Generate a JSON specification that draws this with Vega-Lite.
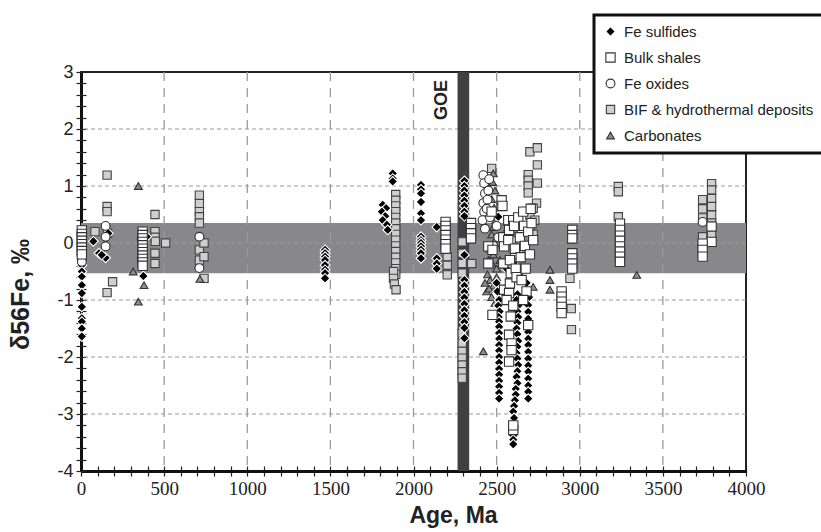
{
  "$schema": "https://vega.github.io/schema/vega-lite/v6.json",
  "width": 665,
  "height": 399,
  "autosize": "none",
  "padding": {"left": 81, "top": 72, "right": 75, "bottom": 61},
  "background": "white",
  "config": {
    "view": {"stroke": "#222", "strokeWidth": 2},
    "font": "Liberation Sans",
    "axis": {"grid": false, "tickColor": "#222", "tickWidth": 1.2, "domainColor": "#111", "domainWidth": 3, "labelColor": "#222", "titleColor": "#222"},
    "legend": {
      "orient": "none", "legendX": 513, "legendY": -57,
      "fillColor": "white", "strokeColor": "#111", "strokeWidth": 3, "padding": 9,
      "labelFont": "Liberation Sans", "labelFontSize": 15, "labelColor": "#222",
      "rowPadding": 10, "labelOffset": 6, "symbolStrokeWidth": 1.1, "labelLimit": 400
    }
  },
  "resolve": {"axis": {"x": "independent", "y": "independent"}},
  "datasets": {
    "pts": [
      {"age": 84, "d56Fe": 0.2, "type": "BIF & hydrothermal deposits"},
      {"age": 157, "d56Fe": 1.19, "type": "BIF & hydrothermal deposits"},
      {"age": 157, "d56Fe": 0.64, "type": "BIF & hydrothermal deposits"},
      {"age": 157, "d56Fe": 0.55, "type": "BIF & hydrothermal deposits"},
      {"age": 160, "d56Fe": 0.17, "type": "BIF & hydrothermal deposits"},
      {"age": 190, "d56Fe": -0.68, "type": "BIF & hydrothermal deposits"},
      {"age": 157, "d56Fe": -0.87, "type": "BIF & hydrothermal deposits"},
      {"age": 445, "d56Fe": 0.5, "type": "BIF & hydrothermal deposits"},
      {"age": 445, "d56Fe": 0.2, "type": "BIF & hydrothermal deposits"},
      {"age": 445, "d56Fe": 0.1, "type": "BIF & hydrothermal deposits"},
      {"age": 447, "d56Fe": 0.03, "type": "BIF & hydrothermal deposits"},
      {"age": 445, "d56Fe": -0.18, "type": "BIF & hydrothermal deposits"},
      {"age": 445, "d56Fe": -0.36, "type": "BIF & hydrothermal deposits"},
      {"age": 509, "d56Fe": 0.0, "type": "BIF & hydrothermal deposits"},
      {"age": 712, "d56Fe": 0.84, "type": "BIF & hydrothermal deposits"},
      {"age": 712, "d56Fe": 0.69, "type": "BIF & hydrothermal deposits"},
      {"age": 712, "d56Fe": 0.55, "type": "BIF & hydrothermal deposits"},
      {"age": 712, "d56Fe": 0.46, "type": "BIF & hydrothermal deposits"},
      {"age": 712, "d56Fe": 0.35, "type": "BIF & hydrothermal deposits"},
      {"age": 712, "d56Fe": -0.12, "type": "BIF & hydrothermal deposits"},
      {"age": 712, "d56Fe": -0.3, "type": "BIF & hydrothermal deposits"},
      {"age": 740, "d56Fe": 0.0, "type": "BIF & hydrothermal deposits"},
      {"age": 740, "d56Fe": -0.24, "type": "BIF & hydrothermal deposits"},
      {"age": 740, "d56Fe": -0.62, "type": "BIF & hydrothermal deposits"},
      {"age": 1893, "d56Fe": 0.85, "type": "BIF & hydrothermal deposits"},
      {"age": 1893, "d56Fe": 0.75, "type": "BIF & hydrothermal deposits"},
      {"age": 1893, "d56Fe": 0.65, "type": "BIF & hydrothermal deposits"},
      {"age": 1893, "d56Fe": 0.55, "type": "BIF & hydrothermal deposits"},
      {"age": 1893, "d56Fe": 0.45, "type": "BIF & hydrothermal deposits"},
      {"age": 1893, "d56Fe": 0.35, "type": "BIF & hydrothermal deposits"},
      {"age": 1893, "d56Fe": 0.25, "type": "BIF & hydrothermal deposits"},
      {"age": 1893, "d56Fe": 0.15, "type": "BIF & hydrothermal deposits"},
      {"age": 1893, "d56Fe": 0.05, "type": "BIF & hydrothermal deposits"},
      {"age": 1893, "d56Fe": -0.05, "type": "BIF & hydrothermal deposits"},
      {"age": 1893, "d56Fe": -0.15, "type": "BIF & hydrothermal deposits"},
      {"age": 1893, "d56Fe": -0.25, "type": "BIF & hydrothermal deposits"},
      {"age": 1893, "d56Fe": -0.35, "type": "BIF & hydrothermal deposits"},
      {"age": 1893, "d56Fe": -0.45, "type": "BIF & hydrothermal deposits"},
      {"age": 1893, "d56Fe": -0.55, "type": "BIF & hydrothermal deposits"},
      {"age": 1880, "d56Fe": -0.5, "type": "BIF & hydrothermal deposits"},
      {"age": 1880, "d56Fe": -0.62, "type": "BIF & hydrothermal deposits"},
      {"age": 1885, "d56Fe": -0.72, "type": "BIF & hydrothermal deposits"},
      {"age": 1895, "d56Fe": -0.82, "type": "BIF & hydrothermal deposits"},
      {"age": 2203, "d56Fe": -0.24, "type": "BIF & hydrothermal deposits"},
      {"age": 2203, "d56Fe": -0.39, "type": "BIF & hydrothermal deposits"},
      {"age": 2203, "d56Fe": -0.56, "type": "BIF & hydrothermal deposits"},
      {"age": 2293, "d56Fe": 0.02, "type": "BIF & hydrothermal deposits"},
      {"age": 2293, "d56Fe": -0.18, "type": "BIF & hydrothermal deposits"},
      {"age": 2293, "d56Fe": -0.36, "type": "BIF & hydrothermal deposits"},
      {"age": 2293, "d56Fe": -0.53, "type": "BIF & hydrothermal deposits"},
      {"age": 2293, "d56Fe": -1.58, "type": "BIF & hydrothermal deposits"},
      {"age": 2293, "d56Fe": -1.76, "type": "BIF & hydrothermal deposits"},
      {"age": 2293, "d56Fe": -1.9, "type": "BIF & hydrothermal deposits"},
      {"age": 2293, "d56Fe": -2.02, "type": "BIF & hydrothermal deposits"},
      {"age": 2293, "d56Fe": -2.14, "type": "BIF & hydrothermal deposits"},
      {"age": 2293, "d56Fe": -2.26, "type": "BIF & hydrothermal deposits"},
      {"age": 2293, "d56Fe": -2.37, "type": "BIF & hydrothermal deposits"},
      {"age": 2350, "d56Fe": -0.36, "type": "BIF & hydrothermal deposits"},
      {"age": 2470, "d56Fe": 1.31, "type": "BIF & hydrothermal deposits"},
      {"age": 2700, "d56Fe": 1.6, "type": "BIF & hydrothermal deposits"},
      {"age": 2745, "d56Fe": 1.67, "type": "BIF & hydrothermal deposits"},
      {"age": 2745, "d56Fe": 1.37, "type": "BIF & hydrothermal deposits"},
      {"age": 2690, "d56Fe": 1.2, "type": "BIF & hydrothermal deposits"},
      {"age": 2690, "d56Fe": 1.1, "type": "BIF & hydrothermal deposits"},
      {"age": 2745, "d56Fe": 1.05, "type": "BIF & hydrothermal deposits"},
      {"age": 2690, "d56Fe": 1.0, "type": "BIF & hydrothermal deposits"},
      {"age": 2690, "d56Fe": 0.88, "type": "BIF & hydrothermal deposits"},
      {"age": 2740, "d56Fe": 0.7, "type": "BIF & hydrothermal deposits"},
      {"age": 2720, "d56Fe": 0.61, "type": "BIF & hydrothermal deposits"},
      {"age": 2700, "d56Fe": 0.49, "type": "BIF & hydrothermal deposits"},
      {"age": 2730, "d56Fe": 0.4, "type": "BIF & hydrothermal deposits"},
      {"age": 2700, "d56Fe": 0.25, "type": "BIF & hydrothermal deposits"},
      {"age": 2720, "d56Fe": 0.15, "type": "BIF & hydrothermal deposits"},
      {"age": 2941, "d56Fe": -0.62, "type": "BIF & hydrothermal deposits"},
      {"age": 2949, "d56Fe": -1.15, "type": "BIF & hydrothermal deposits"},
      {"age": 2950, "d56Fe": -1.52, "type": "BIF & hydrothermal deposits"},
      {"age": 3232, "d56Fe": 0.99, "type": "BIF & hydrothermal deposits"},
      {"age": 3232, "d56Fe": 0.9, "type": "BIF & hydrothermal deposits"},
      {"age": 3232, "d56Fe": 0.46, "type": "BIF & hydrothermal deposits"},
      {"age": 3793, "d56Fe": 1.04, "type": "BIF & hydrothermal deposits"},
      {"age": 3793, "d56Fe": 0.93, "type": "BIF & hydrothermal deposits"},
      {"age": 3793, "d56Fe": 0.78, "type": "BIF & hydrothermal deposits"},
      {"age": 3793, "d56Fe": 0.64, "type": "BIF & hydrothermal deposits"},
      {"age": 3793, "d56Fe": 0.49, "type": "BIF & hydrothermal deposits"},
      {"age": 3793, "d56Fe": 0.35, "type": "BIF & hydrothermal deposits"},
      {"age": 3793, "d56Fe": 0.17, "type": "BIF & hydrothermal deposits"},
      {"age": 3793, "d56Fe": 0.02, "type": "BIF & hydrothermal deposits"},
      {"age": 3739, "d56Fe": 0.76, "type": "BIF & hydrothermal deposits"},
      {"age": 3739, "d56Fe": 0.6, "type": "BIF & hydrothermal deposits"},
      {"age": 3739, "d56Fe": 0.44, "type": "BIF & hydrothermal deposits"},
      {"age": 3739, "d56Fe": 0.11, "type": "BIF & hydrothermal deposits"},

      {"age": 345, "d56Fe": 1.0, "type": "Carbonates"},
      {"age": 345, "d56Fe": -1.03, "type": "Carbonates"},
      {"age": 314, "d56Fe": -0.5, "type": "Carbonates"},
      {"age": 379, "d56Fe": -0.74, "type": "Carbonates"},
      {"age": 715, "d56Fe": -0.63, "type": "Carbonates"},
      {"age": 2480, "d56Fe": 1.22, "type": "Carbonates"},
      {"age": 2475, "d56Fe": 1.07, "type": "Carbonates"},
      {"age": 2490, "d56Fe": 0.92, "type": "Carbonates"},
      {"age": 2470, "d56Fe": 0.77, "type": "Carbonates"},
      {"age": 2485, "d56Fe": 0.62, "type": "Carbonates"},
      {"age": 2460, "d56Fe": 0.5, "type": "Carbonates"},
      {"age": 2495, "d56Fe": 0.4, "type": "Carbonates"},
      {"age": 2480, "d56Fe": 0.28, "type": "Carbonates"},
      {"age": 2470, "d56Fe": 0.15, "type": "Carbonates"},
      {"age": 2490, "d56Fe": 0.04, "type": "Carbonates"},
      {"age": 2460, "d56Fe": -0.1, "type": "Carbonates"},
      {"age": 2480, "d56Fe": -0.2, "type": "Carbonates"},
      {"age": 2470, "d56Fe": -0.35, "type": "Carbonates"},
      {"age": 2500, "d56Fe": -0.45, "type": "Carbonates"},
      {"age": 2445, "d56Fe": -0.55, "type": "Carbonates"},
      {"age": 2460, "d56Fe": -0.65, "type": "Carbonates"},
      {"age": 2480, "d56Fe": -0.75, "type": "Carbonates"},
      {"age": 2440, "d56Fe": -0.85, "type": "Carbonates"},
      {"age": 2470, "d56Fe": -0.95, "type": "Carbonates"},
      {"age": 2490, "d56Fe": -1.05, "type": "Carbonates"},
      {"age": 2420, "d56Fe": -1.9, "type": "Carbonates"},
      {"age": 2500, "d56Fe": -0.6, "type": "Carbonates"},
      {"age": 2520, "d56Fe": -0.3, "type": "Carbonates"},
      {"age": 2510, "d56Fe": 0.0, "type": "Carbonates"},
      {"age": 2430, "d56Fe": -0.7, "type": "Carbonates"},
      {"age": 2450, "d56Fe": -0.3, "type": "Carbonates"},
      {"age": 2455, "d56Fe": -0.8, "type": "Carbonates"},
      {"age": 2720, "d56Fe": -0.77, "type": "Carbonates"},
      {"age": 2821, "d56Fe": -0.47, "type": "Carbonates"},
      {"age": 2821, "d56Fe": -0.65, "type": "Carbonates"},
      {"age": 2821, "d56Fe": -0.82, "type": "Carbonates"},
      {"age": 3343, "d56Fe": -0.56, "type": "Carbonates"},

      {"age": 5, "d56Fe": -0.39, "type": "Fe sulfides"},
      {"age": 5, "d56Fe": -0.5, "type": "Fe sulfides"},
      {"age": 5, "d56Fe": -0.59, "type": "Fe sulfides"},
      {"age": 5, "d56Fe": -0.74, "type": "Fe sulfides"},
      {"age": 5, "d56Fe": -0.88, "type": "Fe sulfides"},
      {"age": 5, "d56Fe": -1.12, "type": "Fe sulfides"},
      {"age": 5, "d56Fe": -1.32, "type": "Fe sulfides"},
      {"age": 5, "d56Fe": -1.38, "type": "Fe sulfides"},
      {"age": 5, "d56Fe": -1.5, "type": "Fe sulfides"},
      {"age": 5, "d56Fe": -1.64, "type": "Fe sulfides"},
      {"age": 74, "d56Fe": 0.03, "type": "Fe sulfides"},
      {"age": 164, "d56Fe": 0.17, "type": "Fe sulfides"},
      {"age": 108, "d56Fe": -0.18, "type": "Fe sulfides"},
      {"age": 148, "d56Fe": -0.26, "type": "Fe sulfides"},
      {"age": 125, "d56Fe": -0.21, "type": "Fe sulfides"},
      {"age": 375, "d56Fe": -0.58, "type": "Fe sulfides"},
      {"age": 395, "d56Fe": 0.11, "type": "Fe sulfides"},
      {"age": 1468, "d56Fe": -0.12, "type": "Fe sulfides"},
      {"age": 1468, "d56Fe": -0.18, "type": "Fe sulfides"},
      {"age": 1468, "d56Fe": -0.24, "type": "Fe sulfides"},
      {"age": 1468, "d56Fe": -0.3, "type": "Fe sulfides"},
      {"age": 1468, "d56Fe": -0.39, "type": "Fe sulfides"},
      {"age": 1468, "d56Fe": -0.47, "type": "Fe sulfides"},
      {"age": 1468, "d56Fe": -0.53, "type": "Fe sulfides"},
      {"age": 1468, "d56Fe": -0.62, "type": "Fe sulfides"},
      {"age": 1815, "d56Fe": 0.67, "type": "Fe sulfides"},
      {"age": 1835, "d56Fe": 0.61, "type": "Fe sulfides"},
      {"age": 1810, "d56Fe": 0.55, "type": "Fe sulfides"},
      {"age": 1830, "d56Fe": 0.47, "type": "Fe sulfides"},
      {"age": 1815, "d56Fe": 0.4, "type": "Fe sulfides"},
      {"age": 1840, "d56Fe": 0.32, "type": "Fe sulfides"},
      {"age": 1845, "d56Fe": 0.23, "type": "Fe sulfides"},
      {"age": 1875, "d56Fe": 1.22, "type": "Fe sulfides"},
      {"age": 1875, "d56Fe": 1.13, "type": "Fe sulfides"},
      {"age": 1875, "d56Fe": 1.08, "type": "Fe sulfides"},
      {"age": 2045, "d56Fe": 1.02, "type": "Fe sulfides"},
      {"age": 2045, "d56Fe": 0.94, "type": "Fe sulfides"},
      {"age": 2045, "d56Fe": 0.87, "type": "Fe sulfides"},
      {"age": 2045, "d56Fe": 0.72, "type": "Fe sulfides"},
      {"age": 2045, "d56Fe": 0.52, "type": "Fe sulfides"},
      {"age": 2045, "d56Fe": 0.4, "type": "Fe sulfides"},
      {"age": 2045, "d56Fe": 0.11, "type": "Fe sulfides"},
      {"age": 2045, "d56Fe": 0.05, "type": "Fe sulfides"},
      {"age": 2045, "d56Fe": 0.0, "type": "Fe sulfides"},
      {"age": 2045, "d56Fe": -0.06, "type": "Fe sulfides"},
      {"age": 2045, "d56Fe": -0.12, "type": "Fe sulfides"},
      {"age": 2045, "d56Fe": -0.18, "type": "Fe sulfides"},
      {"age": 2045, "d56Fe": -0.27, "type": "Fe sulfides"},
      {"age": 2140, "d56Fe": 0.28, "type": "Fe sulfides"},
      {"age": 2140, "d56Fe": -0.27, "type": "Fe sulfides"},
      {"age": 2140, "d56Fe": -0.36, "type": "Fe sulfides"},
      {"age": 2140, "d56Fe": -0.45, "type": "Fe sulfides"},
      {"age": 2306, "d56Fe": 1.09, "type": "Fe sulfides"},
      {"age": 2306, "d56Fe": 1.0, "type": "Fe sulfides"},
      {"age": 2306, "d56Fe": 0.92, "type": "Fe sulfides"},
      {"age": 2306, "d56Fe": 0.83, "type": "Fe sulfides"},
      {"age": 2306, "d56Fe": 0.74, "type": "Fe sulfides"},
      {"age": 2306, "d56Fe": 0.65, "type": "Fe sulfides"},
      {"age": 2306, "d56Fe": 0.55, "type": "Fe sulfides"},
      {"age": 2306, "d56Fe": 0.47, "type": "Fe sulfides"},
      {"age": 2306, "d56Fe": -0.21, "type": "Fe sulfides"},
      {"age": 2306, "d56Fe": -0.65, "type": "Fe sulfides"},
      {"age": 2306, "d56Fe": -0.75, "type": "Fe sulfides"},
      {"age": 2306, "d56Fe": -0.86, "type": "Fe sulfides"},
      {"age": 2306, "d56Fe": -0.96, "type": "Fe sulfides"},
      {"age": 2306, "d56Fe": -1.07, "type": "Fe sulfides"},
      {"age": 2306, "d56Fe": -1.18, "type": "Fe sulfides"},
      {"age": 2306, "d56Fe": -1.28, "type": "Fe sulfides"},
      {"age": 2306, "d56Fe": -1.39, "type": "Fe sulfides"},
      {"age": 2306, "d56Fe": -1.49, "type": "Fe sulfides"},
      {"age": 2306, "d56Fe": -1.67, "type": "Fe sulfides"},
      {"age": 2510, "d56Fe": 0.46, "type": "Fe sulfides"},
      {"age": 2620, "d56Fe": -0.15, "type": "Fe sulfides"},
      {"age": 2560, "d56Fe": -0.45, "type": "Fe sulfides"},
      {"age": 2600, "d56Fe": -0.35, "type": "Fe sulfides"},
      {"age": 2650, "d56Fe": -0.6, "type": "Fe sulfides"},
      {"age": 2680, "d56Fe": -0.7, "type": "Fe sulfides"},
      {"age": 2695, "d56Fe": -0.95, "type": "Fe sulfides"},
      {"age": 2500, "d56Fe": -0.7, "type": "Fe sulfides"},
      {"age": 2505, "d56Fe": -0.85, "type": "Fe sulfides"},
      {"age": 2515, "d56Fe": -1.0, "type": "Fe sulfides"},
      {"age": 2510, "d56Fe": -1.1, "type": "Fe sulfides"},
      {"age": 2518, "d56Fe": -1.2, "type": "Fe sulfides"},
      {"age": 2512, "d56Fe": -1.3, "type": "Fe sulfides"},
      {"age": 2515, "d56Fe": -1.38, "type": "Fe sulfides"},
      {"age": 2515, "d56Fe": -1.47, "type": "Fe sulfides"},
      {"age": 2515, "d56Fe": -1.58, "type": "Fe sulfides"},
      {"age": 2515, "d56Fe": -1.68, "type": "Fe sulfides"},
      {"age": 2515, "d56Fe": -1.79, "type": "Fe sulfides"},
      {"age": 2515, "d56Fe": -1.89, "type": "Fe sulfides"},
      {"age": 2515, "d56Fe": -2.0, "type": "Fe sulfides"},
      {"age": 2515, "d56Fe": -2.1, "type": "Fe sulfides"},
      {"age": 2515, "d56Fe": -2.21, "type": "Fe sulfides"},
      {"age": 2515, "d56Fe": -2.31, "type": "Fe sulfides"},
      {"age": 2515, "d56Fe": -2.42, "type": "Fe sulfides"},
      {"age": 2515, "d56Fe": -2.52, "type": "Fe sulfides"},
      {"age": 2515, "d56Fe": -2.63, "type": "Fe sulfides"},
      {"age": 2515, "d56Fe": -2.73, "type": "Fe sulfides"},
      {"age": 2625, "d56Fe": -0.9, "type": "Fe sulfides"},
      {"age": 2620, "d56Fe": -1.0, "type": "Fe sulfides"},
      {"age": 2630, "d56Fe": -1.1, "type": "Fe sulfides"},
      {"age": 2625, "d56Fe": -1.2, "type": "Fe sulfides"},
      {"age": 2630, "d56Fe": -1.3, "type": "Fe sulfides"},
      {"age": 2625, "d56Fe": -1.4, "type": "Fe sulfides"},
      {"age": 2620, "d56Fe": -1.5, "type": "Fe sulfides"},
      {"age": 2625, "d56Fe": -1.6, "type": "Fe sulfides"},
      {"age": 2630, "d56Fe": -1.72, "type": "Fe sulfides"},
      {"age": 2625, "d56Fe": -1.82, "type": "Fe sulfides"},
      {"age": 2620, "d56Fe": -1.93, "type": "Fe sulfides"},
      {"age": 2625, "d56Fe": -2.03, "type": "Fe sulfides"},
      {"age": 2630, "d56Fe": -2.14, "type": "Fe sulfides"},
      {"age": 2625, "d56Fe": -2.25, "type": "Fe sulfides"},
      {"age": 2620, "d56Fe": -2.35, "type": "Fe sulfides"},
      {"age": 2625, "d56Fe": -2.46, "type": "Fe sulfides"},
      {"age": 2615, "d56Fe": -2.56, "type": "Fe sulfides"},
      {"age": 2615, "d56Fe": -2.66, "type": "Fe sulfides"},
      {"age": 2610, "d56Fe": -2.76, "type": "Fe sulfides"},
      {"age": 2605, "d56Fe": -2.86, "type": "Fe sulfides"},
      {"age": 2600, "d56Fe": -2.96, "type": "Fe sulfides"},
      {"age": 2605, "d56Fe": -3.07, "type": "Fe sulfides"},
      {"age": 2600, "d56Fe": -3.38, "type": "Fe sulfides"},
      {"age": 2600, "d56Fe": -3.45, "type": "Fe sulfides"},
      {"age": 2600, "d56Fe": -3.53, "type": "Fe sulfides"},
      {"age": 2690, "d56Fe": -1.09, "type": "Fe sulfides"},
      {"age": 2690, "d56Fe": -1.21, "type": "Fe sulfides"},
      {"age": 2690, "d56Fe": -1.33, "type": "Fe sulfides"},
      {"age": 2690, "d56Fe": -1.44, "type": "Fe sulfides"},
      {"age": 2690, "d56Fe": -1.56, "type": "Fe sulfides"},
      {"age": 2690, "d56Fe": -1.68, "type": "Fe sulfides"},
      {"age": 2690, "d56Fe": -1.79, "type": "Fe sulfides"},
      {"age": 2690, "d56Fe": -1.91, "type": "Fe sulfides"},
      {"age": 2690, "d56Fe": -2.03, "type": "Fe sulfides"},
      {"age": 2690, "d56Fe": -2.15, "type": "Fe sulfides"},
      {"age": 2690, "d56Fe": -2.26, "type": "Fe sulfides"},
      {"age": 2690, "d56Fe": -2.38, "type": "Fe sulfides"},
      {"age": 2690, "d56Fe": -2.5, "type": "Fe sulfides"},
      {"age": 2690, "d56Fe": -2.61, "type": "Fe sulfides"},
      {"age": 2690, "d56Fe": -2.73, "type": "Fe sulfides"},

      {"age": 5, "d56Fe": -0.27, "type": "Fe oxides"},
      {"age": 5, "d56Fe": -0.33, "type": "Fe oxides"},
      {"age": 148, "d56Fe": 0.3, "type": "Fe oxides"},
      {"age": 148, "d56Fe": 0.11, "type": "Fe oxides"},
      {"age": 148, "d56Fe": -0.06, "type": "Fe oxides"},
      {"age": 365, "d56Fe": 0.08, "type": "Fe oxides"},
      {"age": 365, "d56Fe": -0.28, "type": "Fe oxides"},
      {"age": 712, "d56Fe": 0.11, "type": "Fe oxides"},
      {"age": 712, "d56Fe": -0.44, "type": "Fe oxides"},
      {"age": 2420, "d56Fe": 1.19, "type": "Fe oxides"},
      {"age": 2425, "d56Fe": 1.05, "type": "Fe oxides"},
      {"age": 2430, "d56Fe": 0.87, "type": "Fe oxides"},
      {"age": 2420, "d56Fe": 0.7, "type": "Fe oxides"},
      {"age": 2425, "d56Fe": 0.55, "type": "Fe oxides"},
      {"age": 2415, "d56Fe": 0.4, "type": "Fe oxides"},
      {"age": 2430, "d56Fe": 0.25, "type": "Fe oxides"},
      {"age": 2455, "d56Fe": 1.12, "type": "Fe oxides"},
      {"age": 2450, "d56Fe": 0.92, "type": "Fe oxides"},
      {"age": 2445, "d56Fe": 0.76, "type": "Fe oxides"},
      {"age": 2440, "d56Fe": 0.6, "type": "Fe oxides"},
      {"age": 2460, "d56Fe": 0.45, "type": "Fe oxides"},
      {"age": 2500, "d56Fe": 0.3, "type": "Fe oxides"},
      {"age": 2510, "d56Fe": 0.1, "type": "Fe oxides"},
      {"age": 2570, "d56Fe": 0.2, "type": "Fe oxides"},
      {"age": 2590, "d56Fe": 0.05, "type": "Fe oxides"},
      {"age": 2610, "d56Fe": -0.2, "type": "Fe oxides"},
      {"age": 2650, "d56Fe": 0.2, "type": "Fe oxides"},
      {"age": 2480, "d56Fe": -0.05, "type": "Fe oxides"},
      {"age": 3739, "d56Fe": 0.37, "type": "Fe oxides"},

      {"age": 5, "d56Fe": 0.22, "type": "Bulk shales"},
      {"age": 5, "d56Fe": 0.16, "type": "Bulk shales"},
      {"age": 5, "d56Fe": 0.1, "type": "Bulk shales"},
      {"age": 5, "d56Fe": 0.04, "type": "Bulk shales"},
      {"age": 5, "d56Fe": -0.02, "type": "Bulk shales"},
      {"age": 5, "d56Fe": -0.08, "type": "Bulk shales"},
      {"age": 5, "d56Fe": -0.14, "type": "Bulk shales"},
      {"age": 5, "d56Fe": -0.2, "type": "Bulk shales"},
      {"age": 371, "d56Fe": 0.2, "type": "Bulk shales"},
      {"age": 371, "d56Fe": 0.14, "type": "Bulk shales"},
      {"age": 371, "d56Fe": 0.08, "type": "Bulk shales"},
      {"age": 371, "d56Fe": 0.02, "type": "Bulk shales"},
      {"age": 371, "d56Fe": -0.04, "type": "Bulk shales"},
      {"age": 371, "d56Fe": -0.1, "type": "Bulk shales"},
      {"age": 371, "d56Fe": -0.16, "type": "Bulk shales"},
      {"age": 371, "d56Fe": -0.22, "type": "Bulk shales"},
      {"age": 371, "d56Fe": -0.28, "type": "Bulk shales"},
      {"age": 371, "d56Fe": -0.34, "type": "Bulk shales"},
      {"age": 371, "d56Fe": -0.4, "type": "Bulk shales"},
      {"age": 2193, "d56Fe": 0.37, "type": "Bulk shales"},
      {"age": 2193, "d56Fe": 0.3, "type": "Bulk shales"},
      {"age": 2193, "d56Fe": 0.22, "type": "Bulk shales"},
      {"age": 2193, "d56Fe": 0.14, "type": "Bulk shales"},
      {"age": 2193, "d56Fe": 0.06, "type": "Bulk shales"},
      {"age": 2193, "d56Fe": -0.02, "type": "Bulk shales"},
      {"age": 2193, "d56Fe": -0.1, "type": "Bulk shales"},
      {"age": 2346, "d56Fe": 0.35, "type": "Bulk shales"},
      {"age": 2346, "d56Fe": 0.26, "type": "Bulk shales"},
      {"age": 2346, "d56Fe": 0.17, "type": "Bulk shales"},
      {"age": 2346, "d56Fe": 0.08, "type": "Bulk shales"},
      {"age": 2450, "d56Fe": -0.06, "type": "Bulk shales"},
      {"age": 2450, "d56Fe": -0.36, "type": "Bulk shales"},
      {"age": 2470, "d56Fe": 0.55, "type": "Bulk shales"},
      {"age": 2475, "d56Fe": -0.12, "type": "Bulk shales"},
      {"age": 2530, "d56Fe": 0.75, "type": "Bulk shales"},
      {"age": 2535, "d56Fe": 0.65, "type": "Bulk shales"},
      {"age": 2540, "d56Fe": 0.1, "type": "Bulk shales"},
      {"age": 2545, "d56Fe": -0.06, "type": "Bulk shales"},
      {"age": 2540, "d56Fe": -0.36, "type": "Bulk shales"},
      {"age": 2545, "d56Fe": -0.82, "type": "Bulk shales"},
      {"age": 2570, "d56Fe": 0.4, "type": "Bulk shales"},
      {"age": 2575, "d56Fe": 0.23, "type": "Bulk shales"},
      {"age": 2570, "d56Fe": 0.05, "type": "Bulk shales"},
      {"age": 2580, "d56Fe": -0.3, "type": "Bulk shales"},
      {"age": 2585, "d56Fe": -0.53, "type": "Bulk shales"},
      {"age": 2580, "d56Fe": -0.71, "type": "Bulk shales"},
      {"age": 2575, "d56Fe": -0.88, "type": "Bulk shales"},
      {"age": 2600, "d56Fe": 0.4, "type": "Bulk shales"},
      {"age": 2605, "d56Fe": 0.3, "type": "Bulk shales"},
      {"age": 2610, "d56Fe": -0.1, "type": "Bulk shales"},
      {"age": 2615, "d56Fe": -0.45, "type": "Bulk shales"},
      {"age": 2620, "d56Fe": -0.6, "type": "Bulk shales"},
      {"age": 2630, "d56Fe": 0.45, "type": "Bulk shales"},
      {"age": 2640, "d56Fe": 0.1, "type": "Bulk shales"},
      {"age": 2645, "d56Fe": -0.25, "type": "Bulk shales"},
      {"age": 2650, "d56Fe": -0.65, "type": "Bulk shales"},
      {"age": 2660, "d56Fe": 0.55, "type": "Bulk shales"},
      {"age": 2665, "d56Fe": 0.3, "type": "Bulk shales"},
      {"age": 2670, "d56Fe": -0.05, "type": "Bulk shales"},
      {"age": 2675, "d56Fe": -0.45, "type": "Bulk shales"},
      {"age": 2680, "d56Fe": -0.85, "type": "Bulk shales"},
      {"age": 2690, "d56Fe": 0.2, "type": "Bulk shales"},
      {"age": 2700, "d56Fe": -0.2, "type": "Bulk shales"},
      {"age": 2705, "d56Fe": 0.6, "type": "Bulk shales"},
      {"age": 2710, "d56Fe": 0.35, "type": "Bulk shales"},
      {"age": 2720, "d56Fe": 0.05, "type": "Bulk shales"},
      {"age": 2475, "d56Fe": -1.26, "type": "Bulk shales"},
      {"age": 2585, "d56Fe": -1.29, "type": "Bulk shales"},
      {"age": 2575, "d56Fe": -1.61, "type": "Bulk shales"},
      {"age": 2590, "d56Fe": -1.76, "type": "Bulk shales"},
      {"age": 2590, "d56Fe": -1.88, "type": "Bulk shales"},
      {"age": 2575, "d56Fe": -2.08, "type": "Bulk shales"},
      {"age": 2690, "d56Fe": -1.44, "type": "Bulk shales"},
      {"age": 2600, "d56Fe": -3.28, "type": "Bulk shales"},
      {"age": 2600, "d56Fe": -3.2, "type": "Bulk shales"},
      {"age": 2560, "d56Fe": -1.0, "type": "Bulk shales"},
      {"age": 2600, "d56Fe": -1.1, "type": "Bulk shales"},
      {"age": 2660, "d56Fe": -1.0, "type": "Bulk shales"},
      {"age": 2891, "d56Fe": -0.85, "type": "Bulk shales"},
      {"age": 2891, "d56Fe": -0.94, "type": "Bulk shales"},
      {"age": 2891, "d56Fe": -1.03, "type": "Bulk shales"},
      {"age": 2891, "d56Fe": -1.12, "type": "Bulk shales"},
      {"age": 2891, "d56Fe": -1.23, "type": "Bulk shales"},
      {"age": 2955, "d56Fe": 0.23, "type": "Bulk shales"},
      {"age": 2955, "d56Fe": 0.14, "type": "Bulk shales"},
      {"age": 2955, "d56Fe": 0.08, "type": "Bulk shales"},
      {"age": 2955, "d56Fe": -0.18, "type": "Bulk shales"},
      {"age": 2955, "d56Fe": -0.27, "type": "Bulk shales"},
      {"age": 2955, "d56Fe": -0.36, "type": "Bulk shales"},
      {"age": 2955, "d56Fe": -0.45, "type": "Bulk shales"},
      {"age": 3242, "d56Fe": 0.34, "type": "Bulk shales"},
      {"age": 3242, "d56Fe": 0.23, "type": "Bulk shales"},
      {"age": 3242, "d56Fe": 0.13, "type": "Bulk shales"},
      {"age": 3242, "d56Fe": 0.04, "type": "Bulk shales"},
      {"age": 3242, "d56Fe": -0.06, "type": "Bulk shales"},
      {"age": 3242, "d56Fe": -0.15, "type": "Bulk shales"},
      {"age": 3242, "d56Fe": -0.24, "type": "Bulk shales"},
      {"age": 3242, "d56Fe": -0.33, "type": "Bulk shales"},
      {"age": 3793, "d56Fe": 0.29, "type": "Bulk shales"},
      {"age": 3793, "d56Fe": 0.02, "type": "Bulk shales"},
      {"age": 3739, "d56Fe": -0.01, "type": "Bulk shales"},
      {"age": 3739, "d56Fe": -0.12, "type": "Bulk shales"},
      {"age": 3739, "d56Fe": -0.24, "type": "Bulk shales"}
    ],
    "band": [{"lo": -0.53, "hi": 0.35}],
    "goe": [{"start": 2265, "end": 2335}],
    "goeLabel": [{"age": 2173, "d56Fe": 2.51, "label": "GOE"}],
    "vgrid": [{"age": 500}, {"age": 1000}, {"age": 1500}, {"age": 2000}, {"age": 2500}, {"age": 3000}, {"age": 3500}],
    "hgrid": [{"d56Fe": -3}, {"d56Fe": -2}, {"d56Fe": -1}, {"d56Fe": 0}, {"d56Fe": 1}, {"d56Fe": 2}]
  },
  "layer": [
    {
      "data": {"name": "band"},
      "mark": {"type": "rect", "color": "#88888b"},
      "encoding": {
        "y": {"field": "lo", "type": "quantitative", "scale": {"domain": [-4, 3], "nice": false, "zero": false},
          "axis": {
            "orient": "left",
            "values": [-4, -3, -2, -1, 0, 1, 2, 3],
            "labelExpr": "'' + datum.value",
            "ticks": false, "domain": true,
            "labelFont": "Liberation Sans", "labelFontSize": 18, "labelPadding": 8,
            "title": "δ56Fe, ‰", "titleFont": "Liberation Sans", "titleFontSize": 25, "titleFontWeight": "bold",
            "titleX": -61, "titleY": 222, "titleAngle": 270, "titleAlign": "center", "titleBaseline": "middle"
          }},
        "y2": {"field": "hi"}
      }
    },
    {
      "data": {"name": "vgrid"},
      "mark": {"type": "rule", "color": "#9a9a9a", "strokeWidth": 1.3, "strokeDash": [9, 7]},
      "encoding": {"x": {"field": "age", "type": "quantitative", "scale": {"domain": [0, 4000], "nice": false},
          "axis": {
            "orient": "bottom",
            "values": [0, 100, 200, 300, 400, 500, 600, 700, 800, 900, 1000, 1100, 1200, 1300, 1400, 1500, 1600, 1700, 1800, 1900, 2000, 2100, 2200, 2300, 2400, 2500, 2600, 2700, 2800, 2900, 3000, 3100, 3200, 3300, 3400, 3500, 3600, 3700, 3800, 3900, 4000],
            "labels": false, "domain": false, "ticks": true, "tickSize": 10, "offset": -5, "title": null
          }}}
    },
    {
      "data": {"name": "hgrid"},
      "mark": {"type": "rule", "color": "#9a9a9a", "strokeWidth": 1.1, "strokeDash": [4, 3]},
      "encoding": {"y": {"field": "d56Fe", "type": "quantitative",
          "axis": {
            "orient": "left",
            "values": [-4, -3.8, -3.6, -3.4, -3.2, -3, -2.8, -2.6, -2.4, -2.2, -2, -1.8, -1.6, -1.4, -1.2, -1, -0.8, -0.6, -0.4, -0.2, 0, 0.2, 0.4, 0.6, 0.8, 1, 1.2, 1.4, 1.6, 1.8, 2, 2.2, 2.4, 2.6, 2.8, 3],
            "labels": false, "domain": false, "ticks": true, "tickSize": 10, "offset": -5, "title": null
          }}}
    },
    {
      "data": {"name": "goe"},
      "mark": {"type": "rect", "color": "#404040"},
      "encoding": {
        "x": {"field": "start", "type": "quantitative", "axis": null},
        "x2": {"field": "end"}
      }
    },
    {
      "data": {"name": "goeLabel"},
      "mark": {"type": "text", "angle": 270, "font": "Liberation Sans", "fontSize": 18, "fontWeight": "bold", "color": "#222", "align": "center", "baseline": "middle"},
      "encoding": {
        "x": {"field": "age", "type": "quantitative", "axis": null},
        "y": {"field": "d56Fe", "type": "quantitative", "axis": null},
        "text": {"field": "label"}
      }
    },
    {
      "data": {"name": "pts"},
      "mark": {"type": "point", "filled": true, "opacity": 1, "strokeWidth": 1.1},
      "encoding": {
        "x": {"field": "age", "type": "quantitative",
          "axis": {
            "orient": "bottom",
            "values": [0, 500, 1000, 1500, 2000, 2500, 3000, 3500, 4000],
            "labelExpr": "'' + datum.value",
            "ticks": false, "domain": true,
            "labelFont": "Liberation Sans Narrow", "labelFontSize": 19, "labelPadding": 8, "labelFlush": false,
            "title": "Age, Ma", "titleFont": "Liberation Sans", "titleFontSize": 23, "titleFontWeight": "bold",
            "titleX": 372, "titleY": 44, "titleAlign": "center", "titleBaseline": "middle"
          }},
        "y": {"field": "d56Fe", "type": "quantitative", "axis": null},
        "shape": {"field": "type", "type": "nominal", "title": null,
          "scale": {"domain": ["Fe sulfides", "Bulk shales", "Fe oxides", "BIF & hydrothermal deposits", "Carbonates"],
                    "range": ["diamond", "square", "circle", "square", "triangle-up"]}},
        "fill": {"field": "type", "type": "nominal", "title": null,
          "scale": {"domain": ["Fe sulfides", "Bulk shales", "Fe oxides", "BIF & hydrothermal deposits", "Carbonates"],
                    "range": ["#000000", "#ffffff", "#ffffff", "#cfcfcf", "#8e8e8e"]}},
        "stroke": {"field": "type", "type": "nominal", "title": null,
          "scale": {"domain": ["Fe sulfides", "Bulk shales", "Fe oxides", "BIF & hydrothermal deposits", "Carbonates"],
                    "range": ["#ffffff", "#333333", "#333333", "#444444", "#333333"]}},
        "size": {"field": "type", "type": "nominal", "title": null,
          "scale": {"domain": ["Fe sulfides", "Bulk shales", "Fe oxides", "BIF & hydrothermal deposits", "Carbonates"],
                    "range": [95, 60, 60, 120, 110]}}
      }
    }
  ]
}
